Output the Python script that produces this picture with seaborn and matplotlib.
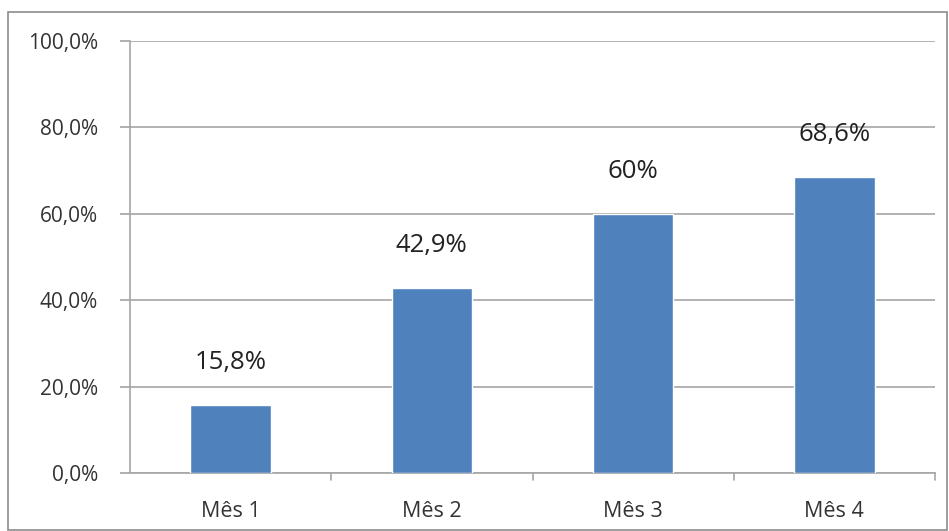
import numpy as np
import pandas as pd
import matplotlib
matplotlib.use('Agg')
import matplotlib.pyplot as plt
import seaborn as sns

# Daten aus dem Diagramm
meses = ['Mês 1', 'Mês 2', 'Mês 3', 'Mês 4']
valores = [15.8, 42.9, 60.0, 68.6]
rotulos = ['15,8%', '42,9%', '60%', '68,6%']
yticks = [0, 20, 40, 60, 80, 100]
ytick_labels = ['0,0%', '20,0%', '40,0%', '60,0%', '80,0%', '100,0%']

sns.set_theme(style="white")
plt.rcParams['font.family'] = ['Open Sans', 'DejaVu Sans']

df = pd.DataFrame({'mes': meses, 'valor': valores})

fig = plt.figure(figsize=(9.49, 5.31), dpi=100)
ax = fig.add_axes([130 / 949, 1 - 473 / 531, 805 / 949, 432 / 531])

sns.barplot(data=df, x='mes', y='valor', color='#4F81BD', saturation=1, width=0.4, ax=ax, zorder=3)

for i, (v, lab) in enumerate(zip(valores, rotulos)):
    ax.annotate(lab, (i, v), xytext=(0, 42), textcoords='offset pixels',
                ha='center', va='center', fontsize=18.5, color='#222222')

ax.set_ylim(0, 100)
ax.set_xlim(-0.5, 3.5)
ax.set_yticks(yticks)
ax.set_yticklabels(ytick_labels, fontsize=15, color='#333333')
ax.tick_params(axis='x', labelsize=15.5, colors='#333333', length=0, pad=20)
ax.tick_params(axis='y', length=7, color='#a6a6a6', direction='out', left=True, pad=16)
ax.set_xlabel('')
ax.set_ylabel('')
ax.yaxis.grid(True, color='#a6a6a6', linewidth=1.2, zorder=0)
ax.set_axisbelow(True)
for s in ['top', 'right']:
    ax.spines[s].set_visible(False)
for s in ['left', 'bottom']:
    ax.spines[s].set_color('#a6a6a6')
    ax.spines[s].set_linewidth(1.2)

# kleine Striche zwischen den Kategorien
for xb in [0.5, 1.5, 2.5, 3.5]:
    ax.plot([xb, xb], [0, -1.6], color='#a6a6a6', linewidth=1.2, clip_on=False)

# Rahmen um die Grafik
fig.patches.append(plt.Rectangle((8 / 949, 0.002), 1 - 10 / 949, 1 - 12 / 531 - 0.002,
                                 transform=fig.transFigure, fill=False,
                                 edgecolor='#8c8c8c', linewidth=1.2))

plt.savefig('out.png', dpi=100)
plt.close()
